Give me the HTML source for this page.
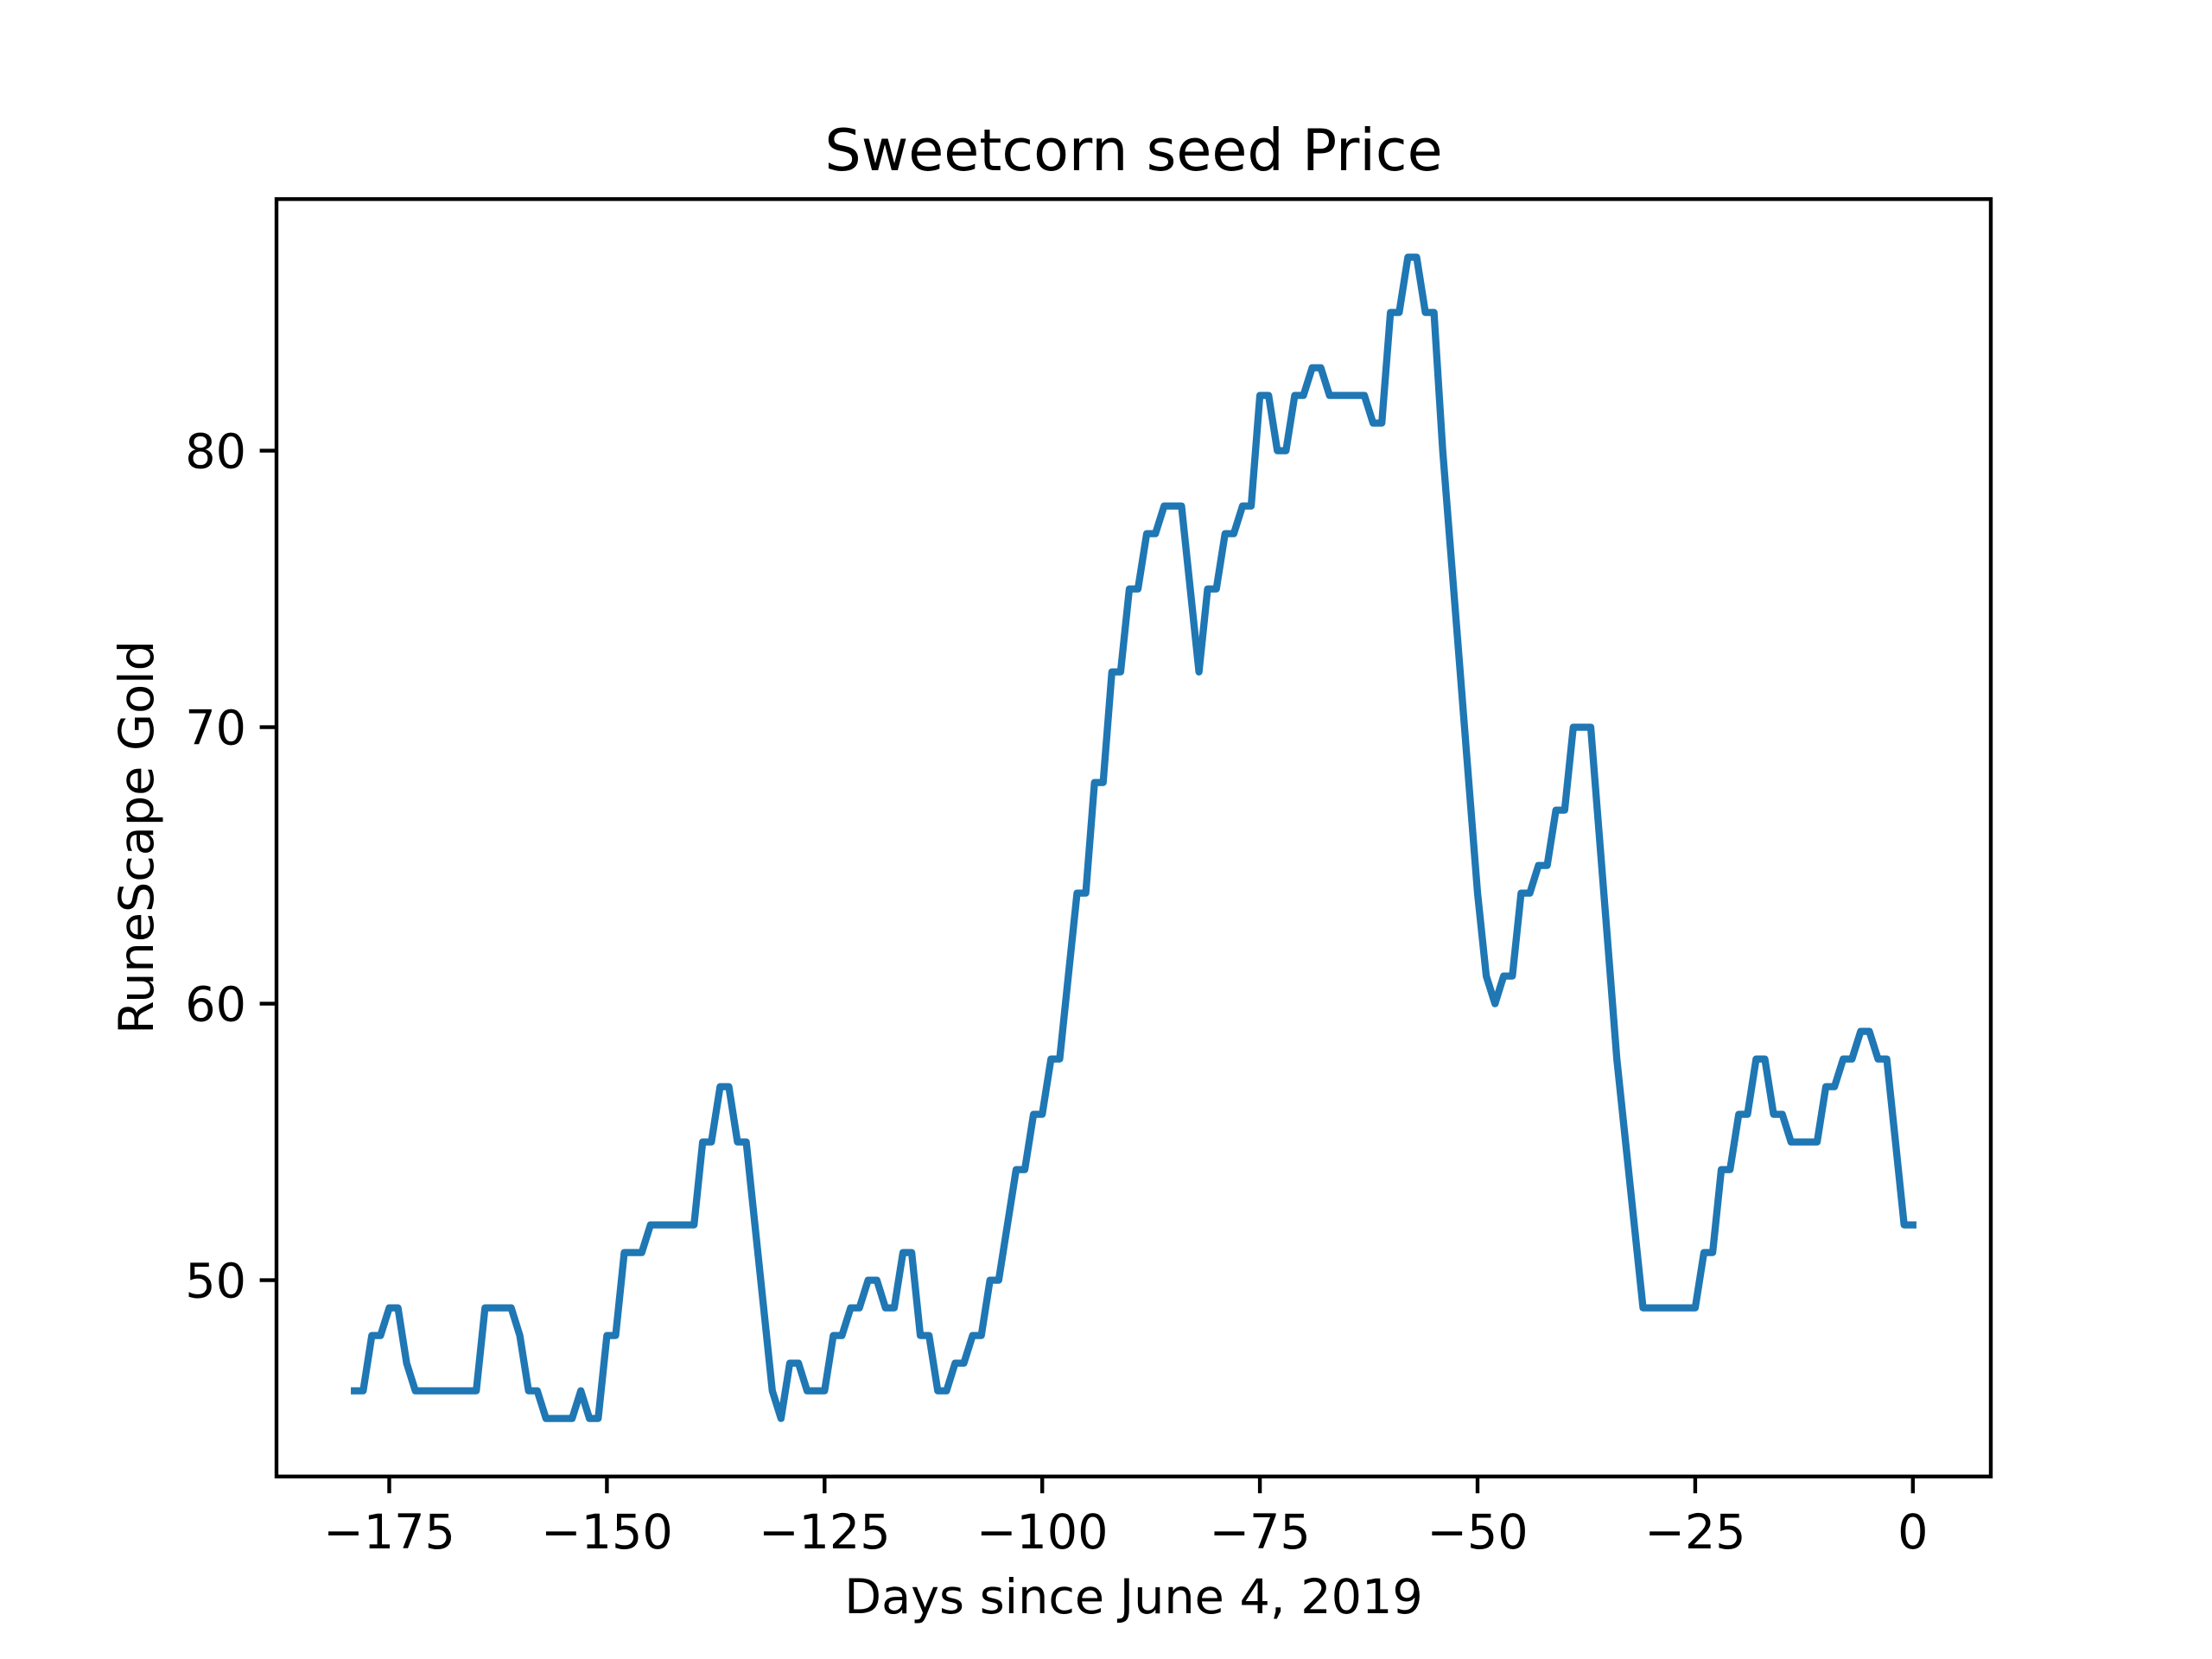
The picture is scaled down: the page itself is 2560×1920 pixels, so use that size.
<!DOCTYPE html>
<html><head><meta charset="utf-8"><style>
html,body{margin:0;padding:0;background:#fff;}
svg{display:block;}
text{font-family:"DejaVu Sans","Liberation Sans",sans-serif;fill:#000;}
</style></head><body>
<svg id="chart" width="2560" height="1920" viewBox="0 0 2560 1920" xmlns="http://www.w3.org/2000/svg">
<rect width="2560" height="1920" fill="#fff"/>
<text x="1312" y="197" font-size="66.7" text-anchor="middle">Sweetcorn seed Price</text>
<text x="1312" y="1867" font-size="55.6" text-anchor="middle">Days since June 4, 2019</text>
<text x="0" y="0" font-size="55.6" text-anchor="middle" transform="translate(177,969) rotate(-90)">RuneScape Gold</text>
<g id="ticks"></g>
<polyline id="series" fill="none" stroke="#1f77b4" stroke-width="8.3" stroke-linejoin="round" stroke-linecap="square"/>
<rect x="320" y="230.4" width="1984" height="1478.4" fill="none" stroke="#000" stroke-width="4.4"/>
</svg>
<script>
const days = [];
for (let d = -179; d <= 0; d++) days.push(d);
const prices = [
46,46,48,48,49,49,47,46,46,46,46,46,46,46,46,49,49,49,49,48,46,46,45,45,45,45,46,45,45,48,48,51,51,51,52,52,52,52,52,52,55,55,57,57,55,55,52,49,46,45,47,47,46,46,46,48,48,49,49,50,50,49,49,51,51,48,48,46,46,47,47,48,48,50,50,52,54,54,56,56,58,58,61,64,64,68,68,72,72,75,75,77,77,78,78,78,75,72,75,75,77,77,78,78,82,82,80,80,82,82,83,83,82,82,82,82,82,81,81,85,85,87,87,85,85,80,76,72,68,64,61,60,61,61,64,64,65,65,67,67,70,70,70,66,62,58,55,52,49,49,49,49,49,49,49,51,51,54,54,56,56,58,58,56,56,55,55,55,55,57,57,58,58,59,59,58,58,55,52,52
];
const xTicks = [-175,-150,-125,-100,-75,-50,-25,0];
const yTicks = [50,60,70,80];
const xMin=-187.95, xMax=8.95, yMin=42.9, yMax=89.1;
const L=320,R=2304,T=230.4,B=1708.8;
function xs(v){return L+(v-xMin)/(xMax-xMin)*(R-L);}
function ys(v){return B-(v-yMin)/(yMax-yMin)*(B-T);}
const pts = days.map((d,i)=>xs(d).toFixed(1)+','+ys(prices[i]).toFixed(1)).join(' ');
document.getElementById('series').setAttribute('points', pts);
const g = document.getElementById('ticks');
const NS='http://www.w3.org/2000/svg';
xTicks.forEach(v=>{
  const l=document.createElementNS(NS,'line');
  l.setAttribute('x1',xs(v));l.setAttribute('x2',xs(v));l.setAttribute('y1',B);l.setAttribute('y2',B+19.4);
  l.setAttribute('stroke','#000');l.setAttribute('stroke-width','4.4');
  
  
  g.appendChild(l);
  const t=document.createElementNS(NS,'text');
  t.setAttribute('x',xs(v));t.setAttribute('y',1792);t.setAttribute('font-size','55.6');t.setAttribute('text-anchor','middle');
  t.textContent = v<0 ? '\u2212'+Math.abs(v) : String(v);
  
  
  g.appendChild(t);
});
yTicks.forEach(v=>{
  const l=document.createElementNS(NS,'line');
  l.setAttribute('x1',L-19.4);l.setAttribute('x2',L);l.setAttribute('y1',ys(v));l.setAttribute('y2',ys(v));
  l.setAttribute('stroke','#000');l.setAttribute('stroke-width','4.4');
  
  
  g.appendChild(l);
  const t=document.createElementNS(NS,'text');
  t.setAttribute('x',L-35);t.setAttribute('y',ys(v)+20);t.setAttribute('font-size','55.6');t.setAttribute('text-anchor','end');
  t.textContent = String(v);
  
  
  g.appendChild(t);
});
</script>
</body></html>
